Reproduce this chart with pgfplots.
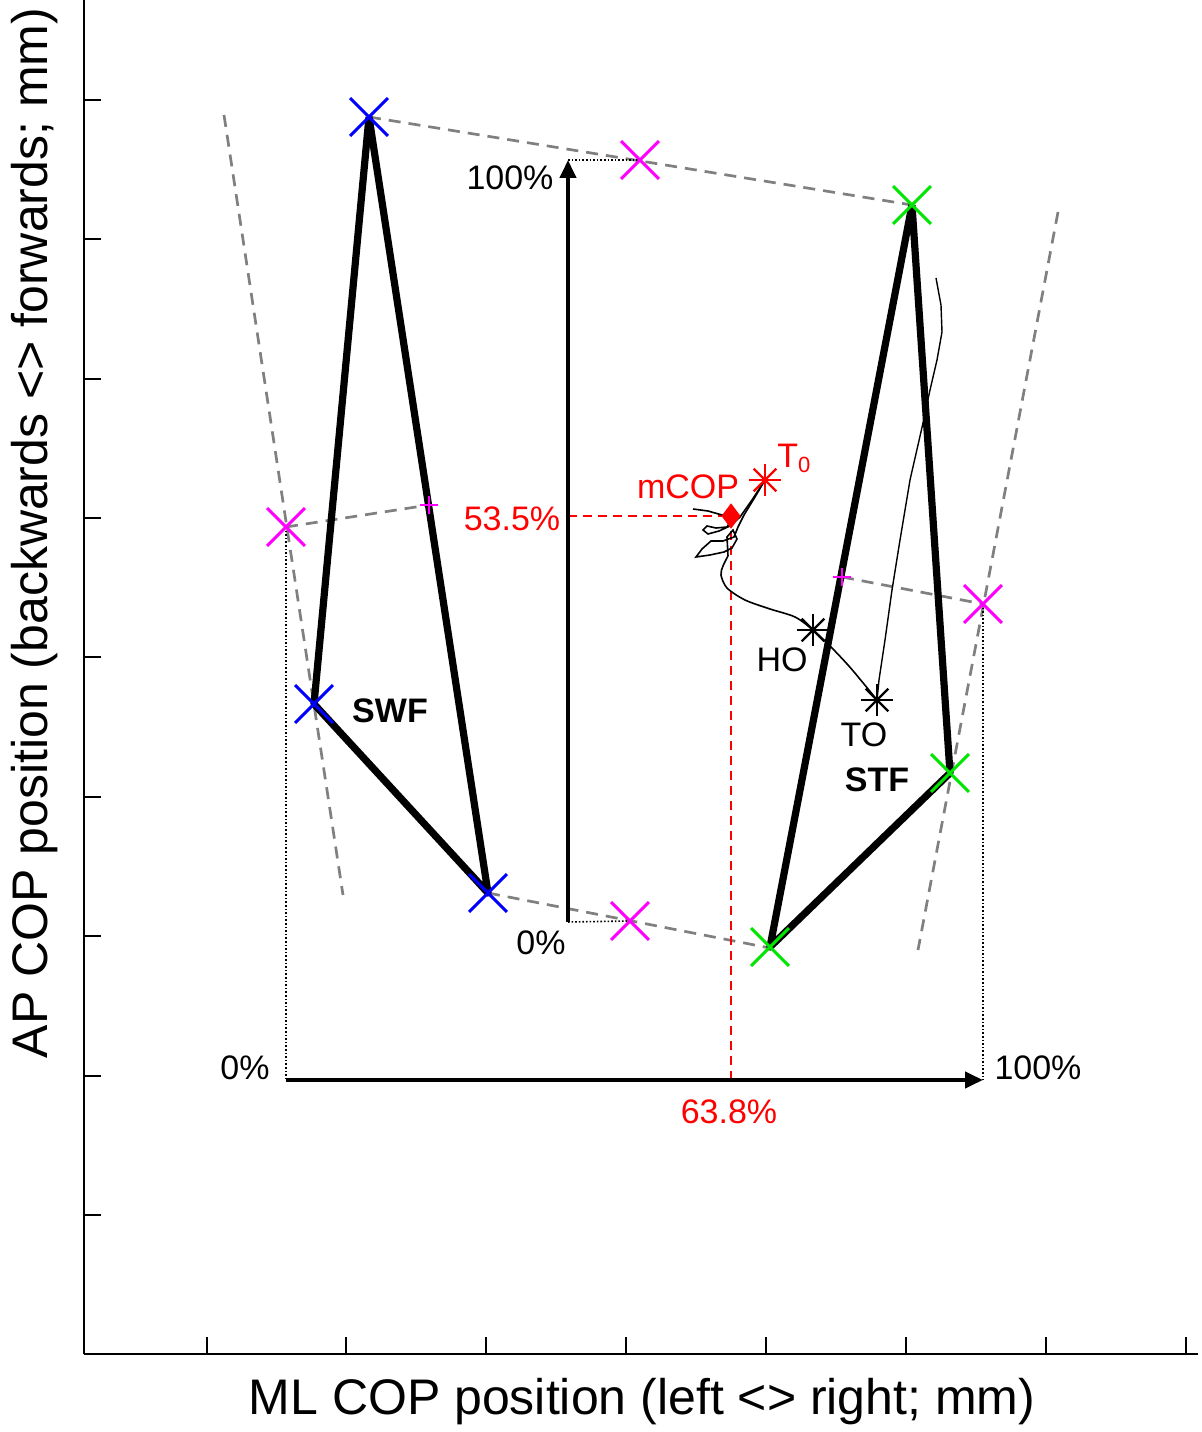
\documentclass[border=0pt]{standalone}
\usepackage{fontspec}
\setmainfont{Liberation Sans}
\usepackage{pgfplots}
\pgfplotsset{compat=1.18}
\usetikzlibrary{arrows.meta}
\definecolor{mblue}{RGB}{0,0,255}
\definecolor{mgreen}{RGB}{0,230,0}
\definecolor{mmag}{RGB}{255,0,255}
\definecolor{mred}{RGB}{255,0,0}
\definecolor{mgray}{RGB}{128,128,128}
\begin{document}
\begin{tikzpicture}
\begin{axis}[
  x=0.5pt, y=0.5pt,
  xmin=84, xmax=1198, ymin=78, ymax=1432,
  axis x line=bottom, axis y line=left,
  axis line style={-, line width=1pt},
  xtick={207,346,486,626,766,906,1046,1186},
  ytick={217,356,496,635,775,914,1053,1193,1332},
  xticklabels={}, yticklabels={},
  tick align=inside, major tick length=8.5pt,
  tick style={line width=1pt, black},
  clip=false,
]
\coordinate (bl) at (axis cs:0,0);
\coordinate (tr) at (axis cs:1202,1432);
% markers (drawn first, lines on top)
\addplot[only marks, mblue, mark=x, mark size=13.4pt, mark options={line width=1.5pt}] coordinates {(369,1315) (314,728) (488,539)};
\addplot[only marks, mgreen, mark=x, mark size=13.4pt, mark options={line width=1.5pt}] coordinates {(912,1227) (950,659) (770,485)};
\addplot[only marks, mmag, mark=x, mark size=13.4pt, mark options={line width=1.5pt}] coordinates {(640,1272) (286,905) (630,511) (983,828)};
% gray dashed construction lines
\addplot[mgray, line width=1.35pt, dash pattern=on 6pt off 4pt] coordinates {(369,1315) (912,1227)};
\addplot[mgray, line width=1.35pt, dash pattern=on 6pt off 4pt] coordinates {(488,539) (770,484)};
\addplot[mgray, line width=1.35pt, dash pattern=on 6pt off 4pt] coordinates {(224,1317) (343,537)};
\addplot[mgray, line width=1.35pt, dash pattern=on 6pt off 4pt] coordinates {(1058,1220) (918,482)};
\addplot[mgray, line width=1.35pt, dash pattern=on 6pt off 4pt] coordinates {(286,905) (429,927)};
\addplot[mgray, line width=1.35pt, dash pattern=on 6pt off 4pt] coordinates {(842,855) (983,828)};
% dotted guides
\addplot[black, line width=0.8pt, densely dotted] coordinates {(568,1272) (640,1272)};
\addplot[black, line width=0.8pt, densely dotted] coordinates {(568,510) (630,511)};
\addplot[black, line width=0.8pt, densely dotted] coordinates {(286,905) (286,352)};
\addplot[black, line width=0.8pt, densely dotted] coordinates {(983,828) (983,352)};
% red dashed mCOP guides
\addplot[mred, line width=1.1pt, dash pattern=on 4.5pt off 3pt] coordinates {(568,916) (731,916)};
\addplot[mred, line width=1.1pt, dash pattern=on 4.5pt off 3pt] coordinates {(731,916) (731,352)};
% arrows
\addplot[black, line width=2pt, -{Triangle[length=9pt,width=8pt]}] coordinates {(568,510) (568,1272)};
\addplot[black, line width=2pt, -{Triangle[length=9pt,width=8pt]}] coordinates {(286,352) (983,352)};
% COP trajectory
\addplot[black, line width=0.8pt] coordinates {(693,923) (708,921) (722,917) (731,912) (727,905) (716,904) (707,906) (703,902) (708,898) (719,901) (730,906) (740,915) (752,932) (765,952)};
\addplot[black, line width=0.8pt] coordinates {(765,952) (755,935) (744,917) (738,905) (734,895) (723,891) (711,891) (702,883) (696,875) (710,877) (724,880) (732,884) (737,893) (733,902) (727,895) (728,876)};
\addplot[black, line width=0.8pt, smooth] coordinates {(728,876) (723,866) (721,857) (727,844) (745,832) (770,823) (795,815) (813,802) (830,786) (848,767) (864,748) (877,732)};
\addplot[black, line width=0.7pt] coordinates {(877,732) (879,752) (885,792) (892,842) (900,892) (910,952) (918,987) (923,1009) (930,1042) (937,1072) (942,1100) (941,1127) (936,1154)};
% foot triangles
\addplot[black, line width=3.6pt, line join=round] coordinates {(369,1315) (314,728) (488,539) (369,1315)};
\addplot[black, line width=3.6pt, line join=round] coordinates {(912,1227) (950,659) (770,485) (912,1227)};
% remaining markers
\addplot[only marks, mmag, mark=+, mark size=4.5pt, mark options={line width=1.1pt}] coordinates {(429,927) (842,855)};
\addplot[only marks, mred, mark=diamond*, mark size=6pt] coordinates {(731,916)};
\addplot[only marks, mred, mark=+, mark size=8pt, mark options={line width=1.1pt}] coordinates {(765,952)};
\addplot[only marks, mred, mark=x, mark size=8pt, mark options={line width=1.1pt}] coordinates {(765,952)};
\addplot[only marks, black, mark=+, mark size=8pt, mark options={line width=1.1pt}] coordinates {(813,802) (877,732)};
\addplot[only marks, black, mark=x, mark size=8pt, mark options={line width=1.1pt}] coordinates {(813,802) (877,732)};
% text
\node[font=\fontsize{17}{20}\selectfont, inner sep=0pt] at (axis cs:510,1254) {100\%};
\node[font=\fontsize{17}{20}\selectfont, inner sep=0pt] at (axis cs:541,489) {0\%};
\node[font=\fontsize{17}{20}\selectfont, inner sep=0pt] at (axis cs:245,364) {0\%};
\node[font=\fontsize{17}{20}\selectfont, inner sep=0pt] at (axis cs:1038,364) {100\%};
\node[font=\fontsize{17}{20}\selectfont, inner sep=0pt, text=mred] at (axis cs:512,913) {53.5\%};
\node[font=\fontsize{17}{20}\selectfont, inner sep=0pt, text=mred] at (axis cs:729,320) {63.8\%};
\node[font=\fontsize{17}{20}\selectfont, inner sep=0pt, text=mred] at (axis cs:688,945) {mCOP};
\node[font=\fontsize{17}{20}\selectfont, inner sep=0pt, text=mred, anchor=base west] at (axis cs:777,964) {T\raisebox{-0.25ex}{\fontsize{11}{13}\selectfont 0}};
\node[font=\fontsize{17}{20}\selectfont, inner sep=0pt] at (axis cs:782,772) {HO};
\node[font=\fontsize{17}{20}\selectfont, inner sep=0pt] at (axis cs:864,697) {TO};
\node[font=\fontsize{17}{20}\selectfont\bfseries, inner sep=0pt] at (axis cs:390,721) {SWF};
\node[font=\fontsize{17}{20}\selectfont\bfseries, inner sep=0pt] at (axis cs:877,652) {STF};
\node[rotate=90, font=\fontsize{25}{30}\selectfont, inner sep=0pt] at (axis cs:35,899) {AP COP position (backwards <> forwards; mm)};
\node[font=\fontsize{25}{30}\selectfont, inner sep=0pt] at (axis cs:642,30) {ML COP position (left <> right; mm)};
\end{axis}
\pgfresetboundingbox
\path[use as bounding box] (bl) rectangle (tr);
\end{tikzpicture}
\end{document}
